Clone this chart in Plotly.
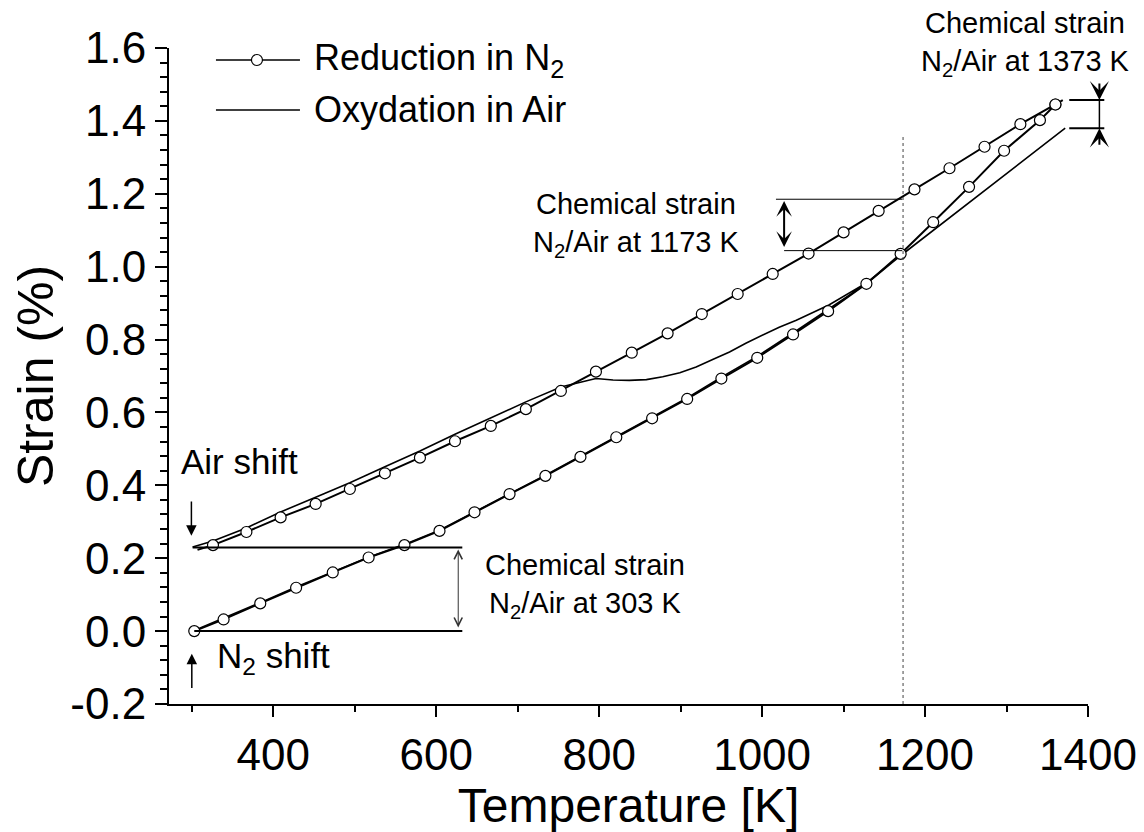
import plotly.graph_objects as go

# N2 run: heating branch (lower + steep high-T part), then cooling branch (upper)
n2_heat_T = [303, 339, 384, 428, 473, 517, 561, 604, 647, 690, 734, 777, 821, 865,
             908, 950, 994, 1038, 1081, 1128, 1170, 1210, 1254, 1297, 1341, 1360]
n2_heat_strain = [0.000, 0.032, 0.076, 0.119, 0.161, 0.202, 0.236, 0.275, 0.326, 0.376,
                  0.426, 0.478, 0.532, 0.584, 0.637, 0.693, 0.750, 0.814, 0.878, 0.953,
                  1.035, 1.122, 1.219, 1.318, 1.402, 1.445]
n2_cool_T = [1360, 1317, 1273, 1230, 1187, 1143, 1100, 1057, 1013, 970, 926, 884, 840,
             796, 753, 710, 667, 623, 580, 537, 494, 452, 409, 367, 326]
n2_cool_strain = [1.445, 1.391, 1.329, 1.270, 1.212, 1.153, 1.094, 1.036, 0.980, 0.925,
                  0.870, 0.817, 0.764, 0.712, 0.659, 0.609, 0.563, 0.521, 0.476, 0.433,
                  0.390, 0.349, 0.312, 0.272, 0.236]
n2_tip = (1369, 1.457)
n2_end = (307, 0.223)

# Air run: heating from the shifted start, then cooling back down
air_T = [301, 326, 367, 409, 452, 494, 537, 580, 623, 666, 710, 753, 772, 796, 817,
         837, 858, 878, 899, 919, 940, 960, 980, 1001, 1021, 1042, 1062, 1082, 1129,
         1171, 1372,
         1171, 1129, 1081, 1038, 994, 950, 908, 865, 821, 777, 734, 690, 647, 604, 561,
         517, 473, 428, 384, 339, 303]
air_strain = [0.231, 0.247, 0.283, 0.327, 0.367, 0.407, 0.451, 0.494, 0.540, 0.584,
              0.629, 0.670, 0.681, 0.693, 0.689, 0.688, 0.690, 0.698, 0.709, 0.725,
              0.746, 0.766, 0.790, 0.812, 0.834, 0.853, 0.874, 0.895, 0.957, 1.032,
              1.380,
              1.032, 0.955, 0.882, 0.818, 0.754, 0.697, 0.640, 0.587, 0.534, 0.480,
              0.428, 0.378, 0.327, 0.277, 0.238, 0.203, 0.163, 0.121, 0.078, 0.035,
              0.002]

x_range = [272, 1400]
y_range = [-0.2, 1.6]
ytick_vals = [-0.2, 0.0, 0.2, 0.4, 0.6, 0.8, 1.0, 1.2, 1.4, 1.6]
ytick_text = ['-0.2', '0.0', '0.2', '0.4', '0.6', '0.8', '1.0', '1.2', '1.4', '1.6']

FONT = 'Arial, Liberation Sans, sans-serif'
BLACK = '#000000'


def xpaper(t):
  return (t - x_range[0]) / (x_range[1] - x_range[0])


fig = go.Figure()

line_T = n2_heat_T + [n2_tip[0]] + n2_cool_T + [n2_end[0]]
line_s = n2_heat_strain + [n2_tip[1]] + n2_cool_strain + [n2_end[1]]
fig.add_trace(go.Scatter(x=line_T, y=line_s, mode='lines',
  line=dict(color=BLACK, width=2), showlegend=False))
fig.add_trace(go.Scatter(x=air_T, y=air_strain, mode='lines',
  line=dict(color=BLACK, width=1.6), showlegend=False))
fig.add_trace(go.Scatter(x=n2_heat_T + n2_cool_T, y=n2_heat_strain + n2_cool_strain,
  mode='markers', showlegend=False,
  marker=dict(symbol='circle', size=11, color='white',
              line=dict(color=BLACK, width=1.2))))

shapes = []
# dotted marker at 1173 K
shapes.append(dict(type='line', xref='x', yref='y', x0=1173, x1=1173, y0=-0.2, y1=1.356,
                   line=dict(color='#444444', width=1, dash='dot')))
# 303 K chemical strain guides
shapes.append(dict(type='line', xref='x', yref='y', x0=301, x1=632, y0=0.2297, y1=0.2297,
                   line=dict(color=BLACK, width=2)))
shapes.append(dict(type='line', xref='x', yref='y', x0=303, x1=632, y0=0.0, y1=0.0,
                   line=dict(color=BLACK, width=2)))
# 1173 K chemical strain guides
shapes.append(dict(type='line', xref='x', yref='y', x0=1017, x1=1172, y0=1.185, y1=1.185,
                   line=dict(color=BLACK, width=1)))
shapes.append(dict(type='line', xref='x', yref='y', x0=1027, x1=1172, y0=1.044, y1=1.044,
                   line=dict(color=BLACK, width=1)))
# 1373 K chemical strain guides (beyond the axis end)
for yv in (1.457, 1.380):
  shapes.append(dict(type='line', xref='paper', yref='y', x0=xpaper(1377), x1=xpaper(1420),
                     y0=yv, y1=yv, line=dict(color=BLACK, width=2)))
shapes.append(dict(type='line', xref='paper', yref='y', x0=xpaper(1414), x1=xpaper(1414),
                   y0=1.380, y1=1.457, line=dict(color=BLACK, width=1.5)))

# hand-drawn legend
leg_x0, leg_x1, leg_mid, leg_text = 0.0511, 0.1425, 0.0957, 0.1555
leg_rows = [0.9817, 0.9055]
for yr in leg_rows:
  shapes.append(dict(type='line', xref='paper', yref='paper', x0=leg_x0, x1=leg_x1,
                     y0=yr, y1=yr, line=dict(color=BLACK, width=1.5)))
shapes.append(dict(type='circle', xref='paper', yref='paper', xsizemode='pixel',
                   ysizemode='pixel', xanchor=leg_mid, yanchor=leg_rows[0],
                   x0=-5.5, x1=5.5, y0=-5.5, y1=5.5, fillcolor='white',
                   line=dict(color=BLACK, width=1.2)))

annotations = []
def txt(text, x, y, size, xref='x', yref='y', xanchor='center'):
  annotations.append(dict(text=text, x=x, y=y, xref=xref, yref=yref, showarrow=False,
                          xanchor=xanchor, yanchor='middle', align='center',
                          font=dict(family=FONT, size=size, color=BLACK)))

txt('Reduction in N<sub>2</sub>', leg_text, leg_rows[0], 36, 'paper', 'paper', 'left')
txt('Oxydation in Air', leg_text, leg_rows[1], 36, 'paper', 'paper', 'left')
txt('Chemical strain<br>N<sub>2</sub>/Air at 1173 K', 845, 1.115, 29)
txt('Chemical strain<br>N<sub>2</sub>/Air at 303 K', 782, 0.124, 29)
txt('Chemical strain<br>N<sub>2</sub>/Air at 1373 K', 0.932, 1.006, 29, 'paper', 'paper')
txt('Air shift', 358, 0.465, 35)
txt('N<sub>2</sub> shift', 400, -0.074, 35)

def arrow(x, y, ax, ay, head, width, side='end', size=1.0, color=BLACK):
  annotations.append(dict(text='', x=x, y=y, ax=ax, ay=ay, xref='x', yref='y',
                          axref='x', ayref='y', showarrow=True, arrowhead=head,
                          startarrowhead=head, arrowside=side, arrowsize=size,
                          startarrowsize=size, arrowwidth=width, arrowcolor=color))

arrow(299.5, 0.262, 299.5, 0.36, 2, 1.5, size=1.4)
arrow(300, -0.062, 300, -0.16, 2, 1.5, size=1.4)
arrow(627, 0.224, 627, 0.006, 5, 1, side='end+start', size=1.6, color='#333333')
arrow(1027, 1.18, 1027, 1.05, 3, 2, side='end+start', size=1.3)
for yv, dy in ((1.457, -18), (1.380, 18)):
  annotations.append(dict(text='', x=xpaper(1414), y=yv, xref='paper', yref='y',
                          ax=0, ay=dy, axref='pixel', ayref='pixel', showarrow=True,
                          arrowhead=3, arrowsize=1.6, arrowwidth=2, arrowcolor=BLACK))

# the page body adds an 8 px offset, so the figure is 8 px smaller each way
fig.update_layout(
  width=1136, height=824,
  margin=dict(l=161, r=56, t=40, b=128, autoexpand=False),
  plot_bgcolor='white', paper_bgcolor='white',
  font=dict(family=FONT, color=BLACK),
  showlegend=False, shapes=shapes, annotations=annotations)

fig.update_xaxes(
  range=x_range, showline=True, linecolor=BLACK, linewidth=2, mirror=False,
  showgrid=False, zeroline=False, automargin=False,
  tickmode='linear', tick0=400, dtick=200,
  ticks='outside', ticklen=11, tickwidth=2, tickcolor=BLACK,
  minor=dict(tickmode='linear', tick0=300, dtick=100, ticks='outside', ticklen=6,
             tickwidth=1.5, tickcolor=BLACK, showgrid=False),
  tickfont=dict(family=FONT, size=44, color=BLACK),
  title=dict(text='Temperature [K]', font=dict(family=FONT, size=48, color=BLACK),
             standoff=0))

fig.update_yaxes(
  range=y_range, showline=True, linecolor=BLACK, linewidth=2, mirror=False,
  showgrid=False, zeroline=False, automargin=False,
  tickmode='array', tickvals=ytick_vals, ticktext=ytick_text,
  ticks='outside', ticklen=12, tickwidth=2, tickcolor=BLACK,
  minor=dict(tickmode='linear', tick0=-0.2, dtick=0.04, ticks='outside', ticklen=7,
             tickwidth=1.5, tickcolor=BLACK, showgrid=False),
  tickfont=dict(family=FONT, size=44, color=BLACK),
  title=dict(text='Strain (%)', font=dict(family=FONT, size=50, color=BLACK),
             standoff=18))

fig.write_html('out.html')
